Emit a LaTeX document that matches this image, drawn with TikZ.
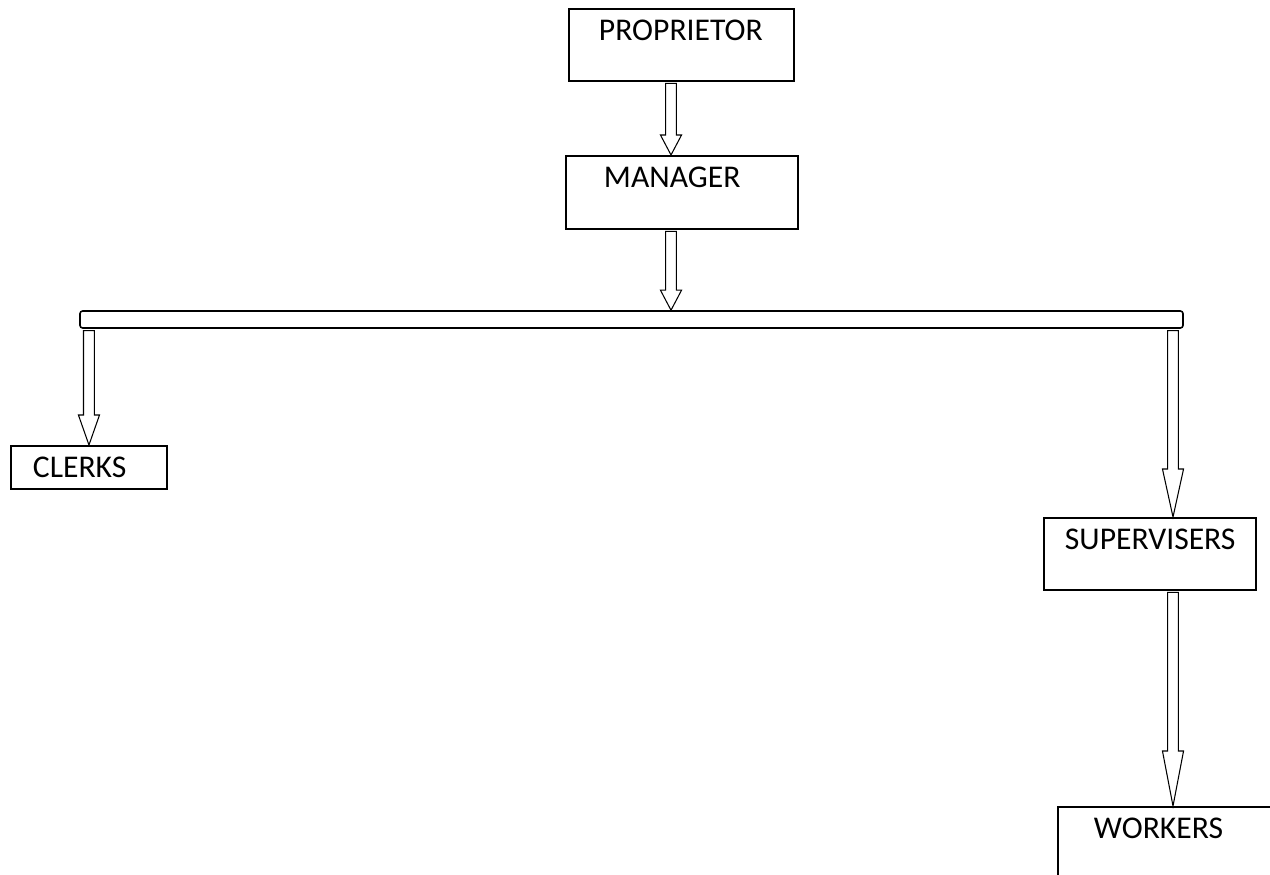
\documentclass[tikz,border=0pt]{standalone}
\usepackage{fontspec}
\setmainfont{Carlito}
\usetikzlibrary{calc,positioning}

\tikzset{
  box/.style={draw, line width=1.1pt, anchor=north west, align=left,
    inner ysep=3pt, text height=15.1pt, font=\fontsize{18}{21.6}\selectfont},
  hollow/.style={draw, line width=0.6pt, fill=white},
  bar/.style={draw, line width=0.9pt, rounded corners=1.5pt,
    minimum width=22.06cm, minimum height=0.34cm, inner sep=0pt}
}
% block arrow: from #1 down to #2, head length #3
\newcommand{\hollowarrow}[3]{%
  \draw[hollow] let \p1=(#1), \p2=(#2) in
    (\x1-3.1pt,\y1-1pt) -- (\x1-3.1pt,\y2+#3) -- (\x1-6pt,\y2+#3) -- (\x2,\y2)
    -- (\x1+6pt,\y2+#3) -- (\x1+3.1pt,\y2+#3) -- (\x1+3.1pt,\y1-1pt) -- cycle;}

\begin{document}
\begin{tikzpicture}
   \useasboundingbox (0,0) rectangle (25.4,-17.5);
   \node[box, text width=3.3cm, inner xsep=0.6cm, text depth=19.7pt] (prop) at (11.36,-0.16) {PROPRIETOR};
   \node[box, text width=3.12cm, inner xsep=0.76cm, text depth=20.3pt] (mgr) at (11.3,-3.1) {MANAGER};
   \node[bar] (bar) at (12.63,-6.39) {};
   \node[box, text width=2.24cm, inner xsep=0.44cm, text depth=3.3pt] (clerks) at (0.2,-8.9) {CLERKS};
   \node[box, text width=3.4cm, inner xsep=0.42cm, text depth=19.7pt] (sup) at (20.86,-10.34) {SUPERVISERS};
   \node[box, text width=3.2cm, inner xsep=0.72cm, text depth=19.7pt] (workers) at (21.14,-16.12) {WORKERS};

   \coordinate (trunk) at (13.42,-6.22);
   \coordinate (rdrop) at (23.46,-6.56);

   \hollowarrow{prop.south -| trunk}{mgr.north -| trunk}{0.4cm}
   \hollowarrow{mgr.south -| trunk}{bar.north -| trunk}{0.4cm}
   \hollowarrow{bar.south -| clerks.north}{clerks.north}{0.6cm}
   \hollowarrow{bar.south -| rdrop}{sup.north -| rdrop}{0.96cm}
   \hollowarrow{sup.south -| rdrop}{workers.north -| rdrop}{1.1cm}
\end{tikzpicture}
\end{document}
